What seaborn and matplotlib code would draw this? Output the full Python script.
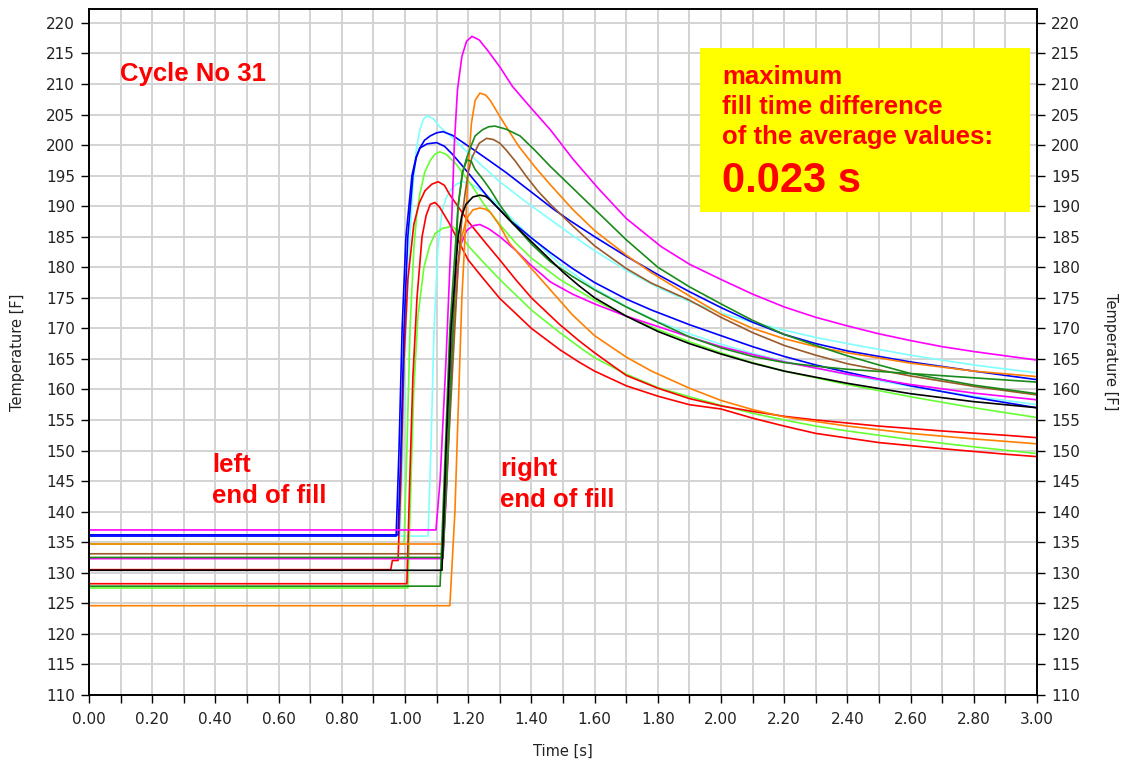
import numpy as np
import pandas as pd
import seaborn as sns
import matplotlib.pyplot as plt
from matplotlib.patches import Rectangle
from matplotlib.ticker import MultipleLocator, FormatStrFormatter

# ---- data: time [s] / temperature [F] per sensor curve ----

magenta1_t = [0.00, 1.098, 1.111, 1.130, 1.146, 1.156, 1.166, 1.180, 1.195, 1.212, 1.235, 1.26, 1.30, 1.34, 1.40, 1.46, 1.53, 1.61, 1.70, 1.81, 1.90, 2.00, 2.10, 2.20, 2.30, 2.40, 2.50, 2.60, 2.70, 2.80, 2.90, 3.00]
magenta1_T = [137.0, 137.0, 145.0, 165.0, 185.0, 200.0, 209.0, 214.5, 217.0, 217.8, 217.2, 215.6, 212.8, 209.6, 206.0, 202.5, 197.8, 193.0, 188.0, 183.4, 180.5, 178.0, 175.6, 173.5, 171.8, 170.4, 169.1, 168.0, 167.0, 166.2, 165.5, 164.8]

magenta2_t = [0.00, 1.120, 1.133, 1.146, 1.161, 1.175, 1.195, 1.215, 1.237, 1.265, 1.30, 1.35, 1.395, 1.46, 1.53, 1.60, 1.70, 1.80, 1.90, 2.00, 2.10, 2.20, 2.40, 2.60, 2.80, 3.00]
magenta2_T = [132.3, 132.3, 145.0, 165.0, 178.0, 183.5, 186.0, 186.8, 187.0, 186.3, 185.0, 182.8, 180.5, 177.6, 175.6, 174.0, 172.0, 170.3, 168.6, 167.0, 165.7, 164.5, 162.5, 160.8, 159.4, 158.3]

orange1_t = [0.00, 1.142, 1.158, 1.168, 1.180, 1.190, 1.200, 1.210, 1.222, 1.237, 1.255, 1.27, 1.30, 1.33, 1.36, 1.41, 1.46, 1.53, 1.60, 1.70, 1.78, 1.90, 2.00, 2.10, 2.20, 2.30, 2.40, 2.60, 2.80, 3.00]
orange1_T = [124.6, 124.6, 140.0, 156.0, 175.0, 185.0, 196.0, 203.5, 207.3, 208.5, 208.2, 207.3, 204.7, 202.2, 199.8, 196.5, 193.5, 189.5, 186.0, 182.0, 179.1, 175.3, 172.3, 170.0, 168.3, 167.0, 166.0, 164.3, 163.0, 162.1]

orange2_t = [0.00, 1.120, 1.136, 1.152, 1.168, 1.180, 1.195, 1.215, 1.237, 1.255, 1.27, 1.30, 1.33, 1.40, 1.46, 1.53, 1.60, 1.70, 1.78, 1.90, 2.00, 2.10, 2.20, 2.40, 2.60, 2.80, 3.00]
orange2_T = [134.7, 134.7, 150.0, 168.0, 180.0, 185.0, 188.0, 189.4, 189.7, 189.5, 189.0, 186.8, 184.0, 179.8, 176.3, 172.2, 168.8, 165.3, 163.0, 160.2, 158.2, 156.7, 155.5, 154.0, 152.8, 151.9, 151.1]

dkgreen1_t = [0.00, 1.120, 1.136, 1.152, 1.168, 1.182, 1.196, 1.210, 1.222, 1.245, 1.265, 1.285, 1.32, 1.364, 1.41, 1.46, 1.53, 1.60, 1.70, 1.80, 1.90, 2.00, 2.10, 2.20, 2.30, 2.40, 2.50, 2.60, 2.80, 3.00]
dkgreen1_T = [132.5, 132.5, 150.0, 170.0, 190.0, 195.5, 198.0, 200.0, 201.5, 202.5, 203.0, 203.1, 202.6, 201.5, 199.2, 196.5, 193.0, 189.5, 184.5, 180.0, 176.8, 174.0, 171.3, 169.0, 167.2, 165.5, 164.0, 162.6, 160.7, 159.3]

dkgreen2_t = [0.00, 1.111, 1.124, 1.142, 1.168, 1.182, 1.196, 1.210, 1.222, 1.245, 1.27, 1.30, 1.34, 1.40, 1.46, 1.53, 1.60, 1.70, 1.80, 1.90, 2.00, 2.10, 2.20, 2.30, 2.40, 2.60, 2.80, 3.00]
dkgreen2_T = [127.8, 127.8, 145.0, 170.0, 190.0, 195.5, 197.6, 197.3, 196.0, 194.5, 192.7, 190.2, 187.3, 183.8, 180.9, 178.5, 176.3, 173.5, 171.0, 168.6, 166.8, 165.4, 164.4, 163.8, 163.3, 162.6, 161.9, 161.2]

black_t = [0.00, 1.117, 1.130, 1.146, 1.168, 1.180, 1.193, 1.215, 1.237, 1.255, 1.27, 1.30, 1.34, 1.40, 1.45, 1.50, 1.55, 1.60, 1.70, 1.80, 1.90, 2.00, 2.10, 2.20, 2.40, 2.60, 2.80, 3.00]
black_T = [130.4, 130.4, 150.0, 170.0, 185.0, 188.5, 190.3, 191.5, 191.8, 191.6, 191.0, 189.4, 187.2, 184.2, 181.7, 179.2, 177.0, 175.0, 172.0, 169.5, 167.5, 165.8, 164.3, 163.0, 161.0, 159.3, 158.0, 157.0]

brown_t = [0.00, 1.120, 1.142, 1.168, 1.180, 1.190, 1.200, 1.212, 1.235, 1.258, 1.28, 1.30, 1.32, 1.35, 1.385, 1.42, 1.46, 1.53, 1.60, 1.70, 1.78, 1.90, 2.00, 2.10, 2.20, 2.30, 2.40, 2.60, 2.80, 3.00]
brown_T = [133.1, 133.1, 155.0, 180.0, 188.0, 192.0, 195.5, 198.0, 200.3, 201.1, 200.9, 200.3, 199.2, 197.3, 194.8, 192.5, 190.3, 186.8, 183.5, 179.8, 177.4, 174.6, 171.8, 169.3, 167.2, 165.6, 164.2, 162.2, 160.5, 159.1]

cyan1_t = [0.00, 0.984, 0.994, 1.003, 1.016, 1.025, 1.035, 1.047, 1.058, 1.070, 1.09, 1.11, 1.15, 1.19, 1.24, 1.30, 1.38, 1.46, 1.53, 1.60, 1.70, 1.80, 1.90, 2.00, 2.10, 2.20, 2.30, 2.40, 2.60, 2.80, 3.00]
cyan1_T = [136.2, 136.2, 150.0, 170.0, 185.0, 193.0, 199.0, 202.5, 204.2, 204.8, 204.3, 203.0, 201.2, 199.2, 196.8, 194.0, 190.8, 187.8, 185.2, 182.7, 179.5, 176.7, 174.4, 172.5, 171.0, 169.7, 168.5, 167.5, 165.6, 164.0, 162.7]

blue1_t = [0.00, 0.978, 0.987, 0.997, 1.009, 1.025, 1.036, 1.047, 1.062, 1.080, 1.10, 1.120, 1.15, 1.21, 1.26, 1.32, 1.37, 1.42, 1.47, 1.52, 1.60, 1.70, 1.80, 1.90, 2.00, 2.10, 2.20, 2.30, 2.40, 2.60, 2.80, 3.00]
blue1_T = [136.2, 136.2, 150.0, 170.0, 185.0, 195.0, 198.0, 199.5, 200.8, 201.5, 202.0, 202.2, 201.6, 199.5, 197.7, 195.5, 193.5, 191.5, 189.5, 187.7, 185.0, 181.8, 178.8, 176.0, 173.4, 171.0, 169.0, 167.5, 166.3, 164.5, 163.0, 161.6]

blue2_t = [0.00, 0.972, 0.981, 0.991, 1.003, 1.022, 1.035, 1.047, 1.07, 1.100, 1.125, 1.150, 1.18, 1.215, 1.27, 1.33, 1.40, 1.46, 1.53, 1.60, 1.70, 1.78, 1.90, 2.00, 2.10, 2.20, 2.30, 2.40, 2.60, 2.80, 3.00]
blue2_T = [136.0, 136.0, 150.0, 170.0, 185.0, 195.0, 198.0, 199.5, 200.2, 200.4, 199.8, 198.5, 196.7, 194.5, 191.0, 187.8, 184.8, 182.4, 179.8, 177.5, 174.8, 173.0, 170.6, 168.8, 167.0, 165.4, 164.0, 162.8, 160.6, 158.7, 157.0]

cyan2_t = [0.00, 1.073, 1.082, 1.092, 1.104, 1.117, 1.130, 1.142, 1.160, 1.180, 1.20, 1.22, 1.26, 1.30, 1.35, 1.40, 1.49, 1.60, 1.70, 1.80, 1.90, 2.00, 2.10, 2.20, 2.40, 2.60, 2.80, 3.00]
cyan2_T = [136.0, 136.0, 150.0, 170.0, 183.0, 189.0, 191.3, 192.5, 193.5, 194.0, 193.8, 193.3, 191.8, 190.0, 187.3, 184.8, 180.5, 176.5, 173.6, 171.1, 169.1, 167.4, 165.9, 164.6, 162.4, 160.5, 158.9, 157.5]

ltgreen1_t = [0.00, 0.997, 1.006, 1.016, 1.028, 1.037, 1.047, 1.062, 1.080, 1.095, 1.110, 1.13, 1.16, 1.21, 1.25, 1.30, 1.35, 1.40, 1.49, 1.60, 1.70, 1.80, 1.90, 2.00, 2.10, 2.20, 2.40, 2.60, 2.80, 3.00]
ltgreen1_T = [134.7, 134.7, 150.0, 170.0, 183.0, 188.5, 192.0, 195.5, 197.5, 198.5, 198.9, 198.5, 197.0, 193.5, 190.3, 187.0, 184.0, 181.5, 178.0, 174.6, 172.0, 169.8, 167.8, 166.0, 164.4, 163.0, 160.8, 158.8, 157.0, 155.4]

ltgreen2_t = [0.00, 1.009, 1.019, 1.028, 1.041, 1.060, 1.078, 1.095, 1.120, 1.150, 1.175, 1.20, 1.25, 1.30, 1.40, 1.49, 1.55, 1.60, 1.70, 1.80, 1.90, 2.00, 2.10, 2.20, 2.30, 2.40, 2.60, 2.80, 3.00]
ltgreen2_T = [127.5, 127.5, 145.0, 160.0, 172.0, 180.0, 183.5, 185.5, 186.4, 186.7, 185.5, 183.5, 180.7, 178.0, 173.0, 169.3, 167.0, 165.2, 162.5, 160.3, 158.8, 157.4, 156.1, 155.0, 154.0, 153.2, 151.8, 150.6, 149.5]

red1_t = [0.00, 0.955, 0.960, 0.978, 0.987, 0.997, 1.009, 1.028, 1.045, 1.063, 1.085, 1.105, 1.125, 1.14, 1.17, 1.20, 1.25, 1.30, 1.35, 1.40, 1.49, 1.55, 1.60, 1.70, 1.80, 1.90, 2.00, 2.10, 2.20, 2.30, 2.50, 2.70, 2.90, 3.00]
red1_T = [130.5, 130.5, 132.0, 132.0, 145.0, 165.0, 178.0, 187.0, 190.5, 192.5, 193.6, 194.0, 193.4, 192.0, 189.8, 187.5, 184.3, 181.2, 178.0, 175.0, 170.6, 168.0, 166.0, 162.3, 160.2, 158.5, 157.3, 156.4, 155.6, 155.0, 154.0, 153.2, 152.5, 152.1]

red2_t = [0.00, 1.006, 1.015, 1.025, 1.038, 1.054, 1.067, 1.080, 1.095, 1.110, 1.14, 1.17, 1.20, 1.25, 1.30, 1.40, 1.49, 1.55, 1.60, 1.70, 1.80, 1.90, 2.00, 2.10, 2.20, 2.30, 2.50, 2.70, 2.90, 3.00]
red2_T = [128.2, 128.2, 145.0, 162.0, 175.0, 185.0, 188.5, 190.3, 190.6, 189.8, 187.2, 184.2, 181.2, 178.0, 174.9, 170.0, 166.5, 164.5, 163.0, 160.6, 158.9, 157.5, 156.8, 155.3, 154.0, 152.8, 151.3, 150.3, 149.4, 149.0]

curves = [
    ("cyan1", cyan1_t, cyan1_T, "#80ffff"),
    ("cyan2", cyan2_t, cyan2_T, "#80ffff"),
    ("ltgreen1", ltgreen1_t, ltgreen1_T, "#66ff33"),
    ("ltgreen2", ltgreen2_t, ltgreen2_T, "#66ff33"),
    ("red1", red1_t, red1_T, "#ff0000"),
    ("red2", red2_t, red2_T, "#ff0000"),
    ("blue1", blue1_t, blue1_T, "#0000ff"),
    ("blue2", blue2_t, blue2_T, "#0000ff"),
    ("magenta1", magenta1_t, magenta1_T, "#ff00ff"),
    ("magenta2", magenta2_t, magenta2_T, "#ff00ff"),
    ("orange1", orange1_t, orange1_T, "#ff8000"),
    ("orange2", orange2_t, orange2_T, "#ff8000"),
    ("brown", brown_t, brown_T, "#9a5a2a"),
    ("dkgreen1", dkgreen1_t, dkgreen1_T, "#1a8a1a"),
    ("dkgreen2", dkgreen2_t, dkgreen2_T, "#1a8a1a"),
    ("black", black_t, black_T, "#000000"),
]

frames = [pd.DataFrame({"time": t, "temp": T, "curve": name}) for name, t, T, _ in curves]
df = pd.concat(frames, ignore_index=True)
palette = {name: c for name, _, _, c in curves}
order = [name for name, _, _, _ in curves]

# ---- plot ----
sns.set_theme(style="white")
plt.rcParams['font.family'] = ['DejaVu Sans']

fig = plt.figure(figsize=(11.26, 7.67), dpi=100)
ax = fig.add_axes([0.079, 0.094, 0.842, 0.8937])

sns.lineplot(data=df, x="time", y="temp", hue="curve", hue_order=order, palette=palette,
             estimator=None, sort=False, legend=False, linewidth=1.2, ax=ax)

ax.set_xlim(0, 3)
ax.set_ylim(110, 222.2)
ax.xaxis.set_major_locator(MultipleLocator(0.2))
ax.xaxis.set_minor_locator(MultipleLocator(0.1))
ax.xaxis.set_major_formatter(FormatStrFormatter("%.2f"))
ax.yaxis.set_major_locator(MultipleLocator(5))

grid_c = "#d3d3d3"
ax.grid(which="both", axis="x", color=grid_c, linewidth=1.4)
ax.grid(which="major", axis="y", color=grid_c, linewidth=1.4)
ax.set_axisbelow(True)

ax.tick_params(which="both", direction="out", length=6, width=1, color="black",
               labelsize=11, labelcolor="#222222", bottom=True, left=True, pad=4)
ax.tick_params(axis="x", pad=6)
for s in ax.spines.values():
    s.set_color("black")
    s.set_linewidth(1.2)

ax.set_xlabel("Time [s]", fontsize=10.5, color="#222222")
ax.set_ylabel("Temperature [F]", fontsize=10.5, color="#222222")
ax.xaxis.label.set_va("center")
ax.xaxis.set_label_coords(0.5, -0.083)
ax.yaxis.label.set_va("center")
ax.yaxis.set_label_coords(-0.075, 0.5)

ax2 = ax.twinx()
ax2.set_ylim(110, 222.2)
ax2.yaxis.set_major_locator(MultipleLocator(5))
ax2.tick_params(direction="out", length=6, width=1, color="black",
                labelsize=11, labelcolor="#222222", right=True, pad=4)
ax2.grid(False)
for s in ax2.spines.values():
    s.set_color("black")
    s.set_linewidth(1.2)
ax2.set_ylabel("Temperature [F]", fontsize=10.5, color="#222222", rotation=270)
ax2.yaxis.label.set_va("center")
ax2.yaxis.set_label_coords(1.077, 0.5)

# ---- annotations ----
red = "#ff0000"
anno = dict(color=red, fontsize=18.5, fontweight="bold", va="baseline", zorder=5,
            family=["Liberation Sans", "DejaVu Sans"])
ax.text(0.098, 210.5, "Cycle No 31", **anno)
ax.text(0.389, 146.5, "left", **anno)
ax.text(0.389, 141.4, "end of fill", **anno)
ax.text(1.30, 145.9, "right", **anno)
ax.text(1.30, 140.8, "end of fill", **anno)

ax.add_patch(Rectangle((1.934, 189.1), 2.978 - 1.934, 215.9 - 189.1, facecolor="#ffff00",
                       edgecolor="none", zorder=4))
ax.text(2.003, 210.0, "maximum", **anno)
ax.text(2.003, 205.1, "fill time difference", **anno)
ax.text(2.003, 200.2, "of the average values:", **anno)
ax.text(2.003, 192.3, "0.023 s", **{**anno, "fontsize": 30})

fig.savefig("out.png", dpi=100)
